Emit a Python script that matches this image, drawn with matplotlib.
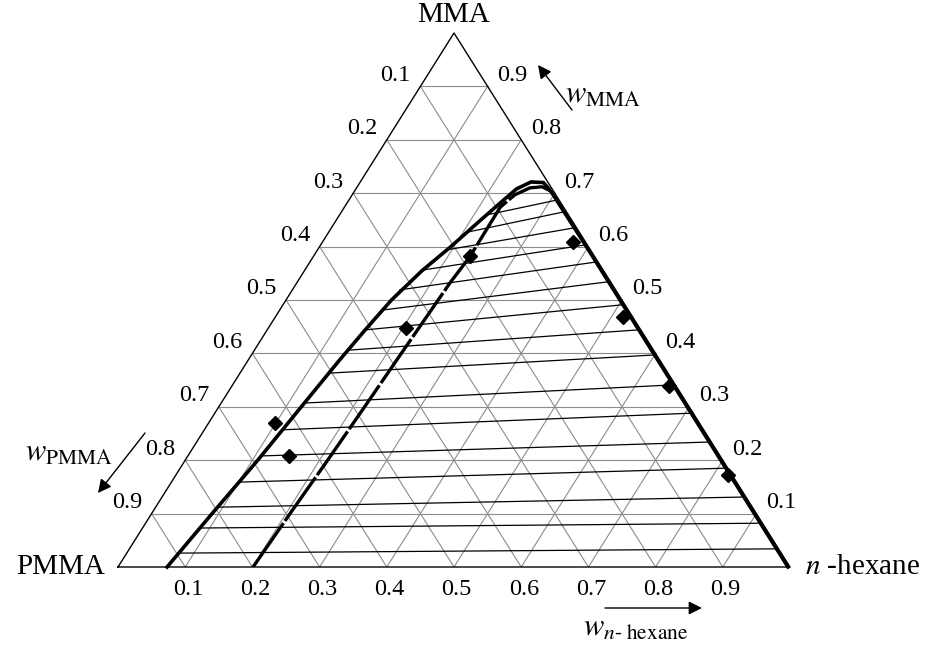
import numpy as np
import matplotlib
matplotlib.use("Agg")
import matplotlib.pyplot as plt

plt.rcParams['font.family'] = ['Liberation Serif', 'DejaVu Serif']
plt.rcParams['mathtext.fontset'] = 'stix'

ticks = [0.1, 0.2, 0.3, 0.4, 0.5, 0.6, 0.7, 0.8, 0.9]
tick_labels = ['0.1', '0.2', '0.3', '0.4', '0.5', '0.6', '0.7', '0.8', '0.9']

# binodal curve (w_hexane, w_MMA)
binodal_h = [0.073, 0.090, 0.108, 0.122, 0.136, 0.146, 0.157, 0.175, 0.195, 0.213, 0.228, 0.239,
             0.254, 0.273, 0.285, 0.296, 0.397, 0.497, 0.597, 0.697, 0.797, 0.897, 0.997]
binodal_m = [0.000, 0.100, 0.200, 0.295, 0.388, 0.445, 0.500, 0.555, 0.599, 0.645, 0.682, 0.708,
             0.721, 0.720, 0.710, 0.700, 0.600, 0.500, 0.400, 0.300, 0.200, 0.100, 0.000]

# second curve (dashed)
dashed_h = [0.201, 0.206, 0.212, 0.217, 0.221, 0.228, 0.233, 0.232, 0.242, 0.258, 0.275, 0.290]
dashed_m = [0.000, 0.100, 0.200, 0.300, 0.388, 0.532, 0.581, 0.674, 0.697, 0.710, 0.712, 0.705]

# tie lines
tie_left_h = [0.077, 0.086, 0.092, 0.101, 0.109, 0.117, 0.124, 0.132, 0.139, 0.146, 0.152,
              0.160, 0.175, 0.193, 0.206, 0.218]
tie_left_m = [0.026, 0.073, 0.112, 0.159, 0.208, 0.257, 0.307, 0.363, 0.406, 0.444, 0.481,
              0.519, 0.556, 0.594, 0.627, 0.659]
tie_right_h = [0.962, 0.914, 0.865, 0.811, 0.762, 0.708, 0.655, 0.599, 0.552, 0.505, 0.462,
               0.425, 0.393, 0.361, 0.331, 0.309]
tie_right_m = [0.034, 0.082, 0.131, 0.185, 0.234, 0.288, 0.341, 0.397, 0.444, 0.491, 0.534,
               0.571, 0.603, 0.635, 0.665, 0.687]

# experimental points
exp_h = [0.099, 0.151, 0.205, 0.233, 0.373, 0.517, 0.651, 0.822]
exp_m = [0.270, 0.208, 0.448, 0.582, 0.609, 0.468, 0.339, 0.172]


def tern(h, m):
    h = np.asarray(h)
    m = np.asarray(m)
    return h + 0.5 * m, m


fig = plt.figure(figsize=(9.25, 6.45), dpi=100)
ax = fig.add_axes([118 / 925, 78 / 645, 672 / 925, 534 / 645])
ax.set_xlim(0, 1)
ax.set_ylim(0, 1)
ax.axis('off')

# grid
for v in ticks:
    for (h0, m0, h1, m1) in [(0, v, 1 - v, v), (v, 0, v, 1 - v), (0, 1 - v, 1 - v, 0)]:
        x0, y0 = tern(h0, m0)
        x1, y1 = tern(h1, m1)
        ax.plot([x0, x1], [y0, y1], color='#8c8c8c', lw=0.8, zorder=1)

# triangle
ax.plot([0, 1, 0.5, 0], [0, 0, 1, 0], color='k', lw=1, zorder=2, clip_on=False)

# tie lines
for hl, ml, hr, mr in zip(tie_left_h, tie_left_m, tie_right_h, tie_right_m):
    x0, y0 = tern(hl, ml)
    x1, y1 = tern(hr, mr)
    ax.plot([x0, x1], [y0, y1], color='k', lw=0.9, zorder=3)

x, y = tern(binodal_h, binodal_m)
ax.plot(x, y, color='k', lw=2.6, zorder=4, clip_on=False, solid_joinstyle='round')
x, y = tern(dashed_h, dashed_m)
ax.plot(x, y, color='k', lw=2.4, ls=(0, (16, 0.8)), zorder=4)

x, y = tern(exp_h, exp_m)
ax.plot(x, y, 'D', color='k', ms=7, zorder=5, ls='none')

fs = 17.5
for v, lab in zip(ticks, tick_labels):
    # left edge (w_PMMA)
    ax.annotate(lab, xy=tern(0, 1 - v), xytext=(-7, 8), textcoords='offset points',
                ha='right', va='center', fontsize=fs)
    # right edge (w_MMA)
    ax.annotate(lab, xy=tern(1 - v, v), xytext=(7, 8), textcoords='offset points',
                ha='left', va='center', fontsize=fs)
    # bottom (w_hexane)
    ax.annotate(lab, xy=tern(v, 0), xytext=(2, -16), textcoords='offset points',
                ha='center', va='center', fontsize=fs)

vfs = 21
ax.annotate('MMA', xy=tern(0, 1), xytext=(0, 13), textcoords='offset points',
            ha='center', va='center', fontsize=vfs)
ax.annotate('PMMA', xy=tern(0, 0), xytext=(-9, 0), textcoords='offset points',
            ha='right', va='center', fontsize=vfs)
ax.annotate('$n$ -hexane', xy=tern(1, 0), xytext=(11, 0), textcoords='offset points',
            ha='left', va='center', fontsize=vfs)

arrow = dict(arrowstyle='-|>', color='k', lw=1, mutation_scale=20, shrinkA=0, shrinkB=0)
ax.annotate('', xy=(538, 580), xytext=(572, 535), xycoords='figure pixels', arrowprops=arrow)
ax.annotate('', xy=(98, 152), xytext=(145, 212), xycoords='figure pixels', arrowprops=arrow)
ax.annotate('', xy=(702, 37), xytext=(605, 37), xycoords='figure pixels', arrowprops=arrow)

fig.text(565 / 925, 550 / 645, r'$w_{\mathrm{MMA}}$', fontsize=22, ha='left', va='center')
fig.text(25 / 925, 192 / 645, r'$w_{\mathrm{PMMA}}$', fontsize=22, ha='left', va='center')
fig.text(583 / 925, 17 / 645, r'$w_{n\mathrm{\text{-}\ hexane}}$', fontsize=22, ha='left', va='center')

fig.savefig('out.png', dpi=100)
